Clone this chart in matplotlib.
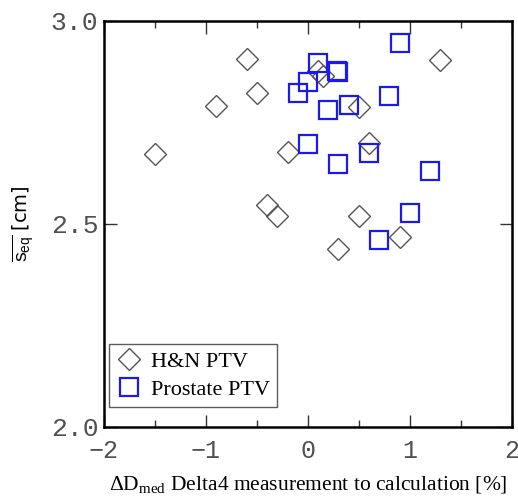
import matplotlib
matplotlib.use('Agg')
import matplotlib.pyplot as plt
from matplotlib.ticker import MultipleLocator

# ── Data ───────────────────────────────────────────────────────────────────────
hn_dx = [-0.60, 1.30, 0.10, 0.15, -0.50, -0.90, 0.50, 0.60, -0.20, -1.50,
         -0.40, -0.30, 0.50, 0.90, 0.30]
hn_seq = [2.906, 2.903, 2.875, 2.863, 2.823, 2.790, 2.787, 2.700, 2.678, 2.672,
          2.546, 2.519, 2.519, 2.467, 2.437]

pr_dx = [0.90, 0.10, 0.29, 0.30, 0.00, -0.10, 0.80, 0.40, 0.20, 0.00,
         0.60, 0.30, 1.20, 1.00, 0.70]
pr_seq = [2.944, 2.897, 2.876, 2.873, 2.850, 2.823, 2.815, 2.793, 2.780, 2.697,
          2.674, 2.647, 2.631, 2.526, 2.460]

x_ticks = [-2, -1, 0, 1, 2]
x_tick_labels = ['−2', '−1', '0', '1', '2']
y_ticks = [2.0, 2.5, 3.0]
y_tick_labels = ['2.0', '2.5', '3.0']

MONO = 'Liberation Mono'
SERIF = 'Liberation Serif'

plt.rcParams['mathtext.fontset'] = 'custom'
plt.rcParams['mathtext.rm'] = 'Liberation Sans'
plt.rcParams['mathtext.it'] = 'Liberation Sans'

fig = plt.figure(figsize=(5.18, 5.0), dpi=100)
ax = fig.add_axes([0.2008, 0.146, 0.7872, 0.8126])

ax.plot(hn_dx, hn_seq, linestyle='none', marker='D', markersize=11,
        markerfacecolor='none', markeredgecolor='#555555', markeredgewidth=1.0,
        label='H&N PTV')
ax.plot(pr_dx, pr_seq, linestyle='none', marker='s', markersize=13.5,
        markerfacecolor='none', markeredgecolor='#1a1aee', markeredgewidth=1.6,
        label='Prostate PTV')

ax.set_xlim(-2, 2)
ax.set_ylim(2.0, 3.0)
ax.set_xticks(x_ticks)
ax.set_yticks(y_ticks)
ax.xaxis.set_minor_locator(MultipleLocator(0.5))

ax.tick_params(which='both', direction='in', top=True, right=True, width=1.0,
               color='#333333')
ax.tick_params(which='major', length=9)
ax.tick_params(which='minor', length=5)
ax.tick_params(axis='x', pad=9)
ax.tick_params(axis='y', pad=4)
for s in ax.spines.values():
    s.set_linewidth(1.8)

ax.set_xticklabels(x_tick_labels, fontfamily=MONO, fontsize=18, color='#505050')
ax.set_yticklabels(y_tick_labels, fontfamily=MONO, fontsize=19, color='#505050')

ax.set_xlabel('ΔD$_{\\mathregular{med}}$ Delta4 measurement to calculation [%]',
              fontfamily=SERIF, fontsize=15.5, labelpad=8)
ax.set_ylabel(r'$\overline{s_{\mathrm{eq}}}$ [cm]', fontsize=14, labelpad=10)

leg = ax.legend(loc='lower left', bbox_to_anchor=(0.012, 0.05),
                prop={'family': SERIF, 'size': 16},
                frameon=True, fancybox=False, edgecolor='#333333',
                borderpad=0.3, handletextpad=0.4, labelspacing=0.35,
                handlelength=1.2, borderaxespad=0.0)
leg.get_frame().set_linewidth(1.0)

fig.savefig('out.png', dpi=100)
